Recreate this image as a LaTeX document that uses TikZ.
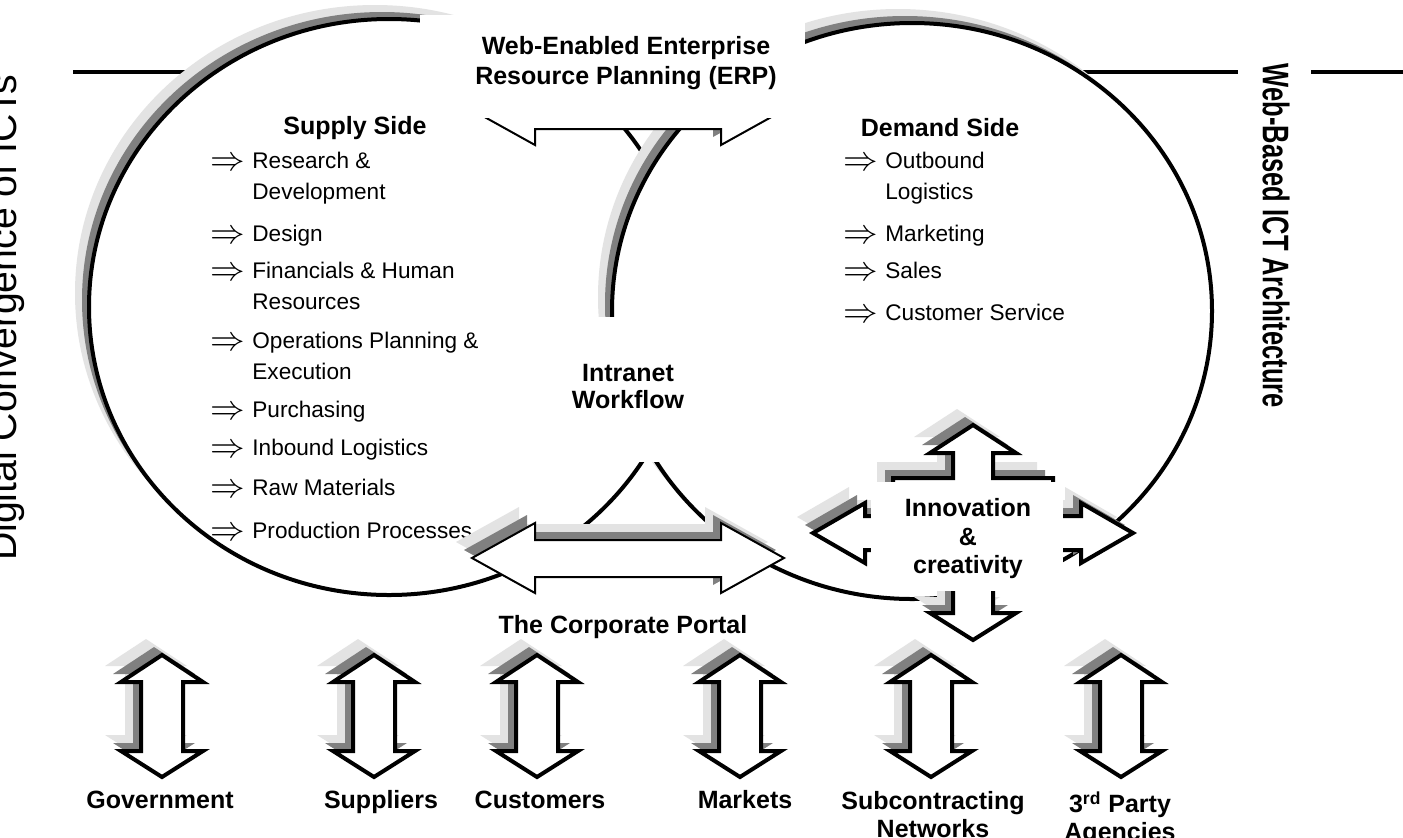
\documentclass[tikz,border=0pt]{standalone}
\usepackage{fontspec}
\setmainfont{Liberation Sans}
\usepackage{amssymb}
\usepackage{xcolor}
\usepackage{graphicx}

\definecolor{shlight}{gray}{0.89}
\definecolor{shdark}{gray}{0.5}

\begin{document}
\begin{tikzpicture}[x=0.5pt, y=-0.5pt, line join=miter,
  item/.style={anchor=north west, align=left, inner sep=0pt, font=\fontsize{11.3}{15.5}\selectfont},
  imp/.style={anchor=west, inner sep=0pt, font=\fontsize{17}{17}\selectfont},
  title/.style={align=center, inner sep=0pt, font=\bfseries\fontsize{12.5}{15}\selectfont},
  portal/.pic={\path[pic actions] (-156,0) -- (-93,-35) -- (-93,-18) -- (93,-18) -- (93,-35)
      -- (156,0) -- (93,35) -- (93,19) -- (-93,19) -- (-93,35) -- cycle;},
  updown/.pic={\path[pic actions] (0,-61) -- (41,-34) -- (21,-34) -- (21,35) -- (41,35)
      -- (0,61) -- (-41,35) -- (-21,35) -- (-21,-34) -- (-41,-34) -- cycle;},
  quad/.pic={\path[pic actions] (-80,-55) -- (-20,-55) -- (-20,-80) -- (-43,-80) -- (0,-108)
      -- (43,-80) -- (20,-80) -- (20,-55) -- (80,-55) -- (80,-17) -- (108,-17) -- (108,-30)
      -- (160,0) -- (108,30) -- (108,17) -- (80,17) -- (80,55) -- (20,55) -- (20,80)
      -- (43,80) -- (0,107) -- (-43,80) -- (-20,80) -- (-20,55) -- (-80,55) -- (-80,17)
      -- (-108,17) -- (-108,30) -- (-160,0) -- (-108,-30) -- (-108,-17) -- (-80,-17) -- cycle;}]

%% cadre
\useasboundingbox (0,0) rectangle (1403,837);
\fill[white] (0,0) rectangle (1403,837);

%% filets du haut
\draw[line width=2.2pt] (73,72) -- (1238,72);
\draw[line width=2.2pt] (1311,72) -- (1403,72);

%% textes verticaux
\node[rotate=90, inner sep=0pt, font=\fontsize{19.6}{20}\selectfont] (digital) at (6,318) {Digital Convergence of ICTs};
\node[rotate=-90, inner sep=0pt, font=\bfseries\fontsize{18.5}{19}\selectfont] (webict) at (1276,236)
  {\scalebox{0.69}[1]{Web-Based ICT Architecture}};

%% cercle gauche
\fill[shlight] (375,293) ellipse [x radius=150pt, y radius=144pt];
\fill[shdark] (382,300) ellipse [x radius=150pt, y radius=144pt];
\draw[line width=2pt, fill=white] (389,307) ellipse [x radius=150pt, y radius=144pt];

%% cercle droit
\fill[shlight] (898,297) ellipse [x radius=150pt, y radius=144pt];
\fill[shdark] (905,304) ellipse [x radius=150pt, y radius=144pt];
\draw[line width=2pt, fill=white] (912,311) ellipse [x radius=150pt, y radius=144pt];

%% ERP
\pic[fill=shlight] at (612,94) {portal};
\pic[fill=shdark] at (620,102) {portal};
\pic[draw, fill=white, line width=1pt] at (628,110) {portal};
\fill[white] (420,15) rectangle (805,118);
\node[title] (erp) at (626,63) {Web-Enabled Enterprise\\Resource Planning (ERP)};

%% intranet
\fill[white] (560,317) rectangle (700,462);
\node[title, font=\bfseries\fontsize{12.5}{13.5}\selectfont] (intranet) at (628,387) {Intranet\\Workflow};

%% offre
\node[title] (supply) at (355,128) {Supply Side};
\node[imp] (sa1) at (210,164) {$\Rightarrow$};
\node[item] (s1) at (252,152) {Research \&\\Development};
\node[imp] (sa2) at (210,237) {$\Rightarrow$};
\node[item] (s2) at (252,225) {Design};
\node[imp] (sa3) at (210,274) {$\Rightarrow$};
\node[item] (s3) at (252,262) {Financials \& Human\\Resources};
\node[imp] (sa4) at (210,344) {$\Rightarrow$};
\node[item] (s4) at (252,332) {Operations Planning \&\\Execution};
\node[imp] (sa5) at (210,413) {$\Rightarrow$};
\node[item] (s5) at (252,401) {Purchasing};
\node[imp] (sa6) at (210,451) {$\Rightarrow$};
\node[item] (s6) at (252,439) {Inbound Logistics};
\node[imp] (sa7) at (210,491) {$\Rightarrow$};
\node[item] (s7) at (252,479) {Raw Materials};
\node[imp] (sa8) at (210,534) {$\Rightarrow$};
\node[item] (s8) at (252,522) {Production Processes};

%% demande
\node[title] (demand) at (940,128) {Demand Side};
\node[imp] (da1) at (843,164) {$\Rightarrow$};
\node[item] (d1) at (885,152) {Outbound\\Logistics};
\node[imp] (da2) at (843,237) {$\Rightarrow$};
\node[item] (d2) at (885,225) {Marketing};
\node[imp] (da3) at (843,274) {$\Rightarrow$};
\node[item] (d3) at (885,262) {Sales};
\node[imp] (da4) at (843,316) {$\Rightarrow$};
\node[item] (d4) at (885,304) {Customer Service};

%% portail
\pic[fill=shlight] at (612,542) {portal};
\pic[fill=shdark] at (620,550) {portal};
\pic[draw, fill=white, line width=1pt] at (628,558) {portal};
\node[title] (portal) at (623,627) {The Corporate Portal};

%% innovation
\pic[fill=shlight] at (957,517) {quad};
\pic[fill=shdark] at (965,525) {quad};
\pic[draw, fill=white, line width=2pt] at (973,533) {quad};
\fill[white] (871,482) rectangle (1063,591);
\node[title, font=\bfseries\fontsize{12.5}{14.25}\selectfont] (innov) at (968,539) {Innovation\\\&\\creativity};

%% partenaires
\pic[fill=shlight] at (146,700) {updown};
\pic[fill=shdark] at (154,708) {updown};
\pic[draw, fill=white, line width=2pt] at (162,716) {updown};
\pic[fill=shlight] at (358,700) {updown};
\pic[fill=shdark] at (366,708) {updown};
\pic[draw, fill=white, line width=2pt] at (374,716) {updown};
\pic[fill=shlight] at (521,700) {updown};
\pic[fill=shdark] at (529,708) {updown};
\pic[draw, fill=white, line width=2pt] at (537,716) {updown};
\pic[fill=shlight] at (724,700) {updown};
\pic[fill=shdark] at (732,708) {updown};
\pic[draw, fill=white, line width=2pt] at (740,716) {updown};
\pic[fill=shlight] at (915,700) {updown};
\pic[fill=shdark] at (923,708) {updown};
\pic[draw, fill=white, line width=2pt] at (931,716) {updown};
\pic[fill=shlight] at (1105,700) {updown};
\pic[fill=shdark] at (1113,708) {updown};
\pic[draw, fill=white, line width=2pt] at (1121,716) {updown};

\node[title, anchor=base] (gov) at (160,808) {Government};
\node[title, anchor=base] (supp) at (381,808) {Suppliers};
\node[title, anchor=base] (cust) at (540,808) {Customers};
\node[title, anchor=base] (mark) at (745,808) {Markets};
\node[title, font=\bfseries\fontsize{12.5}{14}\selectfont, anchor=north] (sub) at (933,791) {Subcontracting\\Networks};
\node[title, font=\bfseries\fontsize{12.5}{14}\selectfont, anchor=north] (third) at (1120,791) {3\textsuperscript{rd} Party\\Agencies};

\end{tikzpicture}
\end{document}
